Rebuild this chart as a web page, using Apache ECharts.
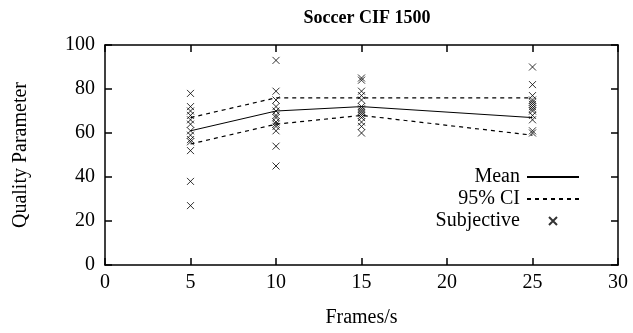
<!DOCTYPE html>
<html>
<head>
<meta charset="utf-8">
<script src="https://cdn.jsdelivr.net/npm/echarts@6/dist/echarts.min.js"></script>
<style>
  html, body { margin: 0; padding: 0; background: #fff; }
  #chart { width: 633px; height: 333px; }
</style>
</head>
<body>
<div id="chart"></div>
<script>
  // frame rates and summary values
  const fps = [5, 10, 15, 25]
  const meanVals = [61, 70, 72, 67]
  const ciUpper = [67, 76, 76, 76]
  const ciLower = [55, 64, 68, 59]

  // individual subjective scores per frame rate
  const subj5 = [78, 72, 70, 68, 66, 64, 61, 59, 57, 56, 52, 38, 27]
  const subj10 = [93, 79, 75, 72, 70, 68, 67, 65, 64, 63, 61, 54, 45]
  const subj15 = [85, 84, 79, 77, 75, 72, 71, 70, 69, 68, 67, 65, 63, 60]
  const subj25 = [90, 82, 77, 75, 74, 73, 72, 71, 70, 68, 66, 61, 60]

  const font = '"Liberation Serif", "DejaVu Serif", serif'
  const cross = 'path://M0,0L10,10M10,0L0,10'

  const pairs = (xs, ys) => xs.map((x, i) => [x, ys[i]])
  const subjPts = []
  ;[subj5, subj10, subj15, subj25].forEach((arr, i) => {
    arr.forEach(v => subjPts.push([fps[i], v]))
  })

  const axisLine = { show: true, onZero: false, lineStyle: { color: '#000', width: 1.5 } }
  const tick = { show: true, inside: true, length: 7, lineStyle: { color: '#000', width: 1.5 } }
  const label = { color: '#000', fontFamily: font, fontSize: 20 }

  const chart = echarts.init(document.getElementById('chart'))
  chart.setOption({
    animation: false,
    backgroundColor: '#fff',
    title: {
      text: 'Soccer CIF 1500',
      left: 362, top: 4, textAlign: 'center',
      textStyle: { fontFamily: font, fontSize: 18, fontWeight: 'bold', color: '#000' }
    },
    grid: { left: 105, right: 15, top: 45, bottom: 65 },
    legend: {
      orient: 'vertical',
      align: 'right',
      right: 48,
      top: 162,
      itemWidth: 52,
      itemHeight: 8,
      itemGap: 2,
      textStyle: { fontFamily: font, fontSize: 20, color: '#000', padding: [0, 2, 0, 0] },
      data: [
        { name: 'Mean', itemStyle: { opacity: 0 } },
        { name: '95% CI', itemStyle: { opacity: 0 } },
        { name: 'Subjective' }
      ]
    },
    xAxis: [{
      type: 'value', min: 0, max: 30, interval: 5,
      name: 'Frames/s', nameLocation: 'middle', nameGap: 43,
      nameTextStyle: label,
      axisLine, axisTick: tick, splitLine: { show: false },
      axisLabel: Object.assign({ margin: 8 }, label)
    }, {
      type: 'value', min: 0, max: 30, interval: 5, position: 'top',
      axisLine, axisTick: tick, splitLine: { show: false }, axisLabel: { show: false }
    }],
    yAxis: [{
      type: 'value', min: 0, max: 100, interval: 20,
      name: 'Quality Parameter', nameLocation: 'middle', nameGap: 74,
      nameTextStyle: label,
      axisLine, axisTick: tick, splitLine: { show: false },
      axisLabel: Object.assign({ margin: 10 }, label)
    }, {
      type: 'value', min: 0, max: 100, interval: 20, position: 'right',
      axisLine, axisTick: tick, splitLine: { show: false }, axisLabel: { show: false }
    }],
    series: [{
      name: 'Mean', type: 'line', data: pairs(fps, meanVals),
      symbol: 'none', lineStyle: { color: '#000', width: 1 }, itemStyle: { color: '#000' }
    }, {
      name: '95% CI', type: 'line', data: pairs(fps, ciUpper),
      symbol: 'none', lineStyle: { color: '#000', width: 1.2, type: [4, 4] }, itemStyle: { color: '#000' }
    }, {
      name: '95% CI', type: 'line', data: pairs(fps, ciLower),
      symbol: 'none', lineStyle: { color: '#000', width: 1.2, type: [4, 4] }, itemStyle: { color: '#000' }
    }, {
      name: 'Subjective', type: 'scatter', data: subjPts,
      symbol: cross, symbolSize: 7,
      itemStyle: { color: 'none', borderColor: '#000', borderWidth: 1 }
    }]
  })
</script>
</body>
</html>
